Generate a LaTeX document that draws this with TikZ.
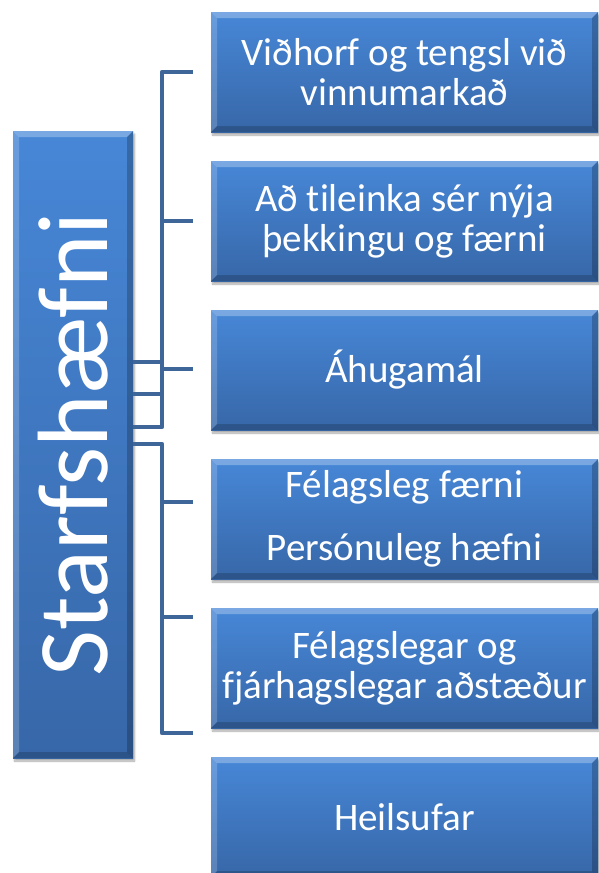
\documentclass[tikz,border=0pt]{standalone}
\usepackage{fontspec}
\setmainfont{Carlito}[Ligatures=NoCommon]
\usetikzlibrary{shadows.blur,calc}
\definecolor{boxtop}{HTML}{4787D7}
\definecolor{boxbot}{HTML}{3767A8}
\definecolor{conncol}{HTML}{3F6699}
\tikzset{
  bevelbox/.style={rectangle, inner sep=0pt, outer sep=0pt,
    top color=boxtop, bottom color=boxbot, draw=none,
    blur shadow={shadow xshift=1.5pt, shadow yshift=-3pt, shadow blur steps=6, shadow opacity=35},
    text=white, align=center, font=\fontsize{39}{40}\selectfont,
    path picture={
      \fill[white,opacity=0.28] (path picture bounding box.north west) -- (path picture bounding box.north east)
        -- ([shift={(-6pt,-6pt)}]path picture bounding box.north east) -- ([shift={(6pt,-6pt)}]path picture bounding box.north west) -- cycle;
      \fill[white,opacity=0.18] (path picture bounding box.north west) -- ([shift={(6pt,-6pt)}]path picture bounding box.north west)
        -- ([shift={(6pt,6pt)}]path picture bounding box.south west) -- (path picture bounding box.south west) -- cycle;
      \fill[black,opacity=0.18] (path picture bounding box.south west) -- ([shift={(6pt,6pt)}]path picture bounding box.south west)
        -- ([shift={(-6pt,6pt)}]path picture bounding box.south east) -- (path picture bounding box.south east) -- cycle;
      \fill[black,opacity=0.22] (path picture bounding box.north east) -- (path picture bounding box.south east)
        -- ([shift={(-6pt,6pt)}]path picture bounding box.south east) -- ([shift={(-6pt,-6pt)}]path picture bounding box.north east) -- cycle;
    }},
  rightbox/.style={bevelbox, minimum width=387pt, minimum height=120pt},
  conn/.style={draw=conncol, line width=4.5pt, line join=round}
}
\begin{document}
\begin{tikzpicture}[x=1pt,y=-1pt]
\useasboundingbox (0,0) rectangle (599,873);
\node[bevelbox, minimum width=120pt, minimum height=627pt] (L) at (73,444.5)
  {\rotatebox{90}{\fontsize{100}{100}\selectfont Starfshæfni}};
\node[rightbox] (A) at (404.5,72) {Viðhorf og tengsl við\\vinnumarkað};
\node[rightbox] (B) at (404.5,221) {Að tileinka sér nýja\\þekkingu og færni};
\node[rightbox] (C) at (404.5,370) {Áhugamál};
\node[rightbox] (D) at (404.5,519) {Félagsleg færni\\[23pt]Persónuleg hæfni};
\node[rightbox] (E) at (404.5,668) {Félagslegar og\\fjárhagslegar aðstæður};
\node[rightbox] (F) at (404.5,817) {Heilsufar};
% bracket 1
\coordinate (t1) at (193,72);
\coordinate (c1t) at (162,72);
\coordinate (c1b) at (162,427);
\coordinate (t2) at (193,221);
\coordinate (k2) at (162,221);
\coordinate (t3) at (193,369);
\coordinate (k3) at (162,369);
\coordinate (m1) at (162,362);
\coordinate (m2) at (162,394);
\draw[conn] (t1) -- (c1t) -- (c1b) -- (c1b -| L.east);
\draw[conn] (k2) -- (t2);
\draw[conn] (k3) -- (t3);
\draw[conn] (m1 -| L.east) -- (m1);
\draw[conn] (m2 -| L.east) -- (m2);
% bracket 2
\coordinate (c2t) at (162,444);
\coordinate (c2b) at (162,733);
\coordinate (t4) at (193,733);
\coordinate (k5) at (162,502);
\coordinate (t5) at (193,502);
\coordinate (k6) at (162,617);
\coordinate (t6) at (193,617);
\draw[conn] (c2t -| L.east) -- (c2t) -- (c2b) -- (t4);
\draw[conn] (k5) -- (t5);
\draw[conn] (k6) -- (t6);
\end{tikzpicture}
\end{document}
